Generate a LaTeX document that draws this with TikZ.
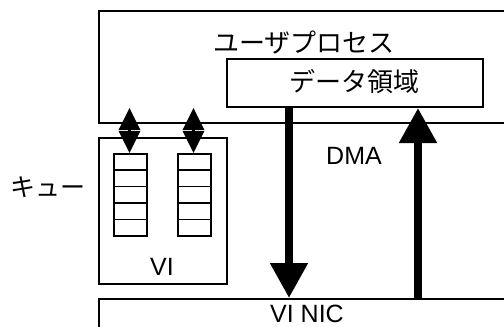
\documentclass[tikz,border=0pt]{standalone}
\usepackage{fontspec}
\setmainfont{Liberation Sans}
\newfontfamily\jp{Noto Sans CJK JP}
\usetikzlibrary{arrows.meta}
\begin{document}
\begin{tikzpicture}[x=1pt,y=-1pt,line width=2pt,
  box/.style={draw,anchor=north west,inner sep=0pt,fill=white},
  lbl/.style={inner sep=0pt,font=\fontsize{25}{30}\selectfont},
  jlbl/.style={inner sep=0pt,font=\jp\fontsize{26}{30}\selectfont},
  cell/.style={draw,line width=1.6pt,minimum width=33pt,minimum height=16.4pt,inner sep=0pt,anchor=north west},
  dbl/.style={line width=3pt,{Triangle[width=21pt,length=22pt]}-{Triangle[width=21pt,length=22pt]}},
  big/.style={line width=8pt,-{Triangle[width=36pt,length=35pt]}}]
\useasboundingbox (0,0) rectangle (504,327);
\clip (0,0) rectangle (504,327);
\node[box,minimum width=440pt,minimum height=112pt] (proc) at (98,10) {};
\node[jlbl] (proclbl) at (304,43) {ユーザプロセス};
\node[box,minimum width=256pt,minimum height=48pt] (data) at (226,58) {};
\node[jlbl] (datalbl) at (354,82) {データ領域};
\node[box,minimum width=128pt,minimum height=146pt] (vi) at (98,137) {};
\node[lbl] (vilbl) at (162,267) {VI};
\node[box,minimum width=450pt,minimum height=60pt] (nic) at (98,298) {};
\node[lbl] (niclbl) at (307,314) {VI NIC};
\foreach \i in {0,...,4}{
  \node[cell] (a\i) at (113,{153+16.4*\i}) {};
  \node[cell] (b\i) at (177,{153+16.4*\i}) {};
}
\node[jlbl,font=\jp\fontsize{25}{30}\selectfont] (queue) at (48,187) {キュー};
\node[lbl] (dma) at (354,156) {DMA};
\coordinate (xa) at (129.5,0);
\coordinate (xb) at (193.5,0);
\coordinate (xd) at (289,0);
\coordinate (xu) at (418,0);
\draw[dbl] (a0.north -| xa) -- (data.south -| xa);
\draw[dbl] (b0.north -| xb) -- (data.south -| xb);
\draw[big] (data.south -| xd) -- (nic.north -| xd);
\draw[big] (nic.north -| xu) -- (data.south -| xu);
\end{tikzpicture}
\end{document}
